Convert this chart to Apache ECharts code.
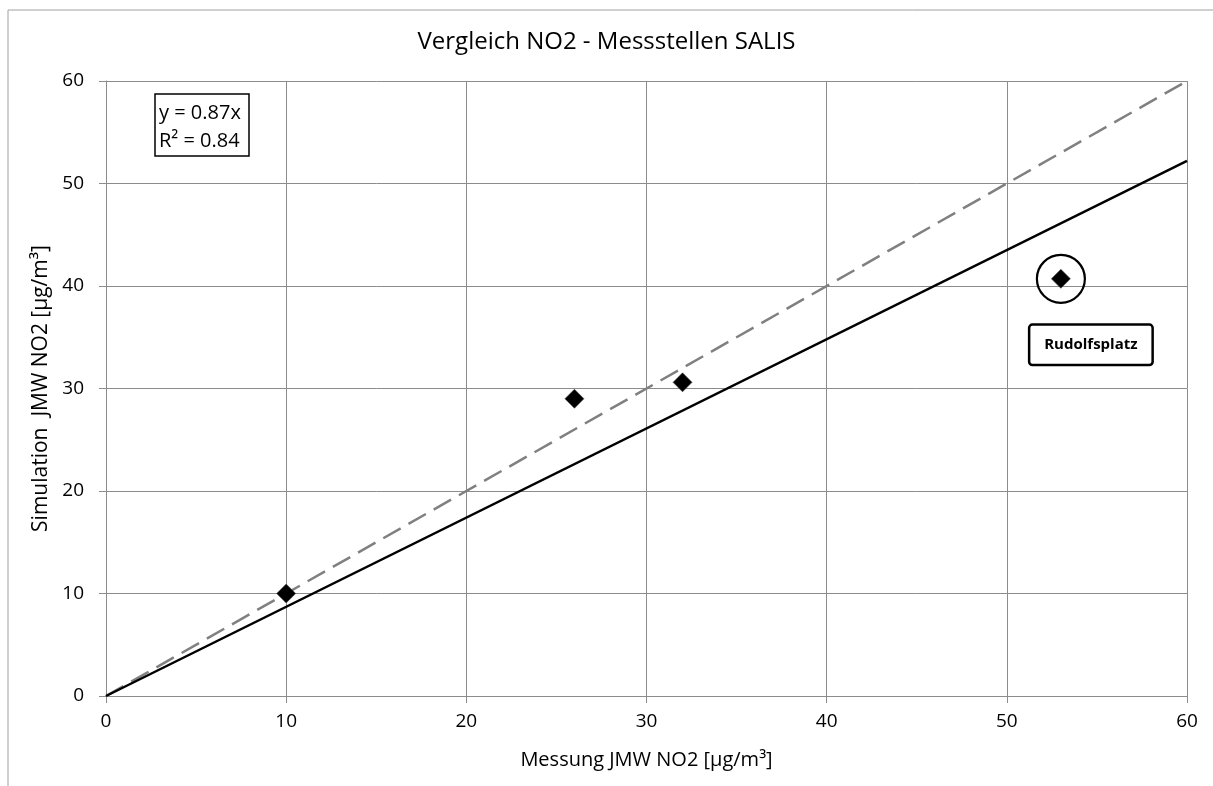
<!DOCTYPE html>
<html>
<head>
<meta charset="utf-8">
<script src="https://cdn.jsdelivr.net/npm/echarts@6/dist/echarts.min.js"></script>
<style>
  html, body { margin: 0; padding: 0; background: #ffffff; }
  #chart { width: 1213px; height: 786px; }
</style>
</head>
<body>
<div id="chart"></div>
<script>
// Measured vs. simulated annual mean NO2 at the SALIS stations
const measured  = [10, 26, 32, 53];
const simulated = [10.0, 29.0, 30.6, 40.7];
const stationNames = ['', '', '', 'Rudolfsplatz'];
const highlightedStation = 'Rudolfsplatz';

// Linear fit through the origin and the 1:1 reference line
const fitSlope = 0.87;
const fitR2 = 0.84;
const axisMax = 60;
const axisTicks = [0, 10, 20, 30, 40, 50, 60];

const FONT = '"Open Sans", Lato, sans-serif';

const points = measured.map((x, i) => [x, simulated[i]]);
const idx = stationNames.indexOf(highlightedStation);
const highlight = [[measured[idx], simulated[idx]]];

const chart = echarts.init(document.getElementById('chart'), null, { renderer: 'canvas' });

chart.setOption({
  backgroundColor: '#ffffff',
  animation: false,
  title: {
    text: 'Vergleich NO2 - Messstellen SALIS',
    left: 'center',
    top: 25,
    textStyle: { fontFamily: FONT, fontSize: 24, fontWeight: 'normal', color: '#000' }
  },
  grid: { left: 106, right: 26, top: 81, bottom: 90, containLabel: false },
  xAxis: {
    type: 'value',
    min: 0, max: axisMax, interval: 10,
    name: 'Messung JMW NO2 [µg/m³]',
    nameLocation: 'middle',
    nameGap: 54,
    nameTextStyle: { fontFamily: FONT, fontSize: 20, color: '#000' },
    axisLine: { show: true, lineStyle: { color: '#8c8c8c', width: 1 } },
    axisTick: { show: true, inside: false, length: 7, lineStyle: { color: '#8c8c8c' } },
    axisLabel: { fontFamily: FONT, fontSize: 19, color: '#000', margin: 16 },
    splitLine: { show: true, lineStyle: { color: '#8c8c8c', width: 1 } }
  },
  yAxis: {
    type: 'value',
    min: 0, max: axisMax, interval: 10,
    name: 'Simulation  JMW NO2 [µg/m³]',
    nameLocation: 'middle',
    nameGap: 53,
    nameTextStyle: { fontFamily: FONT, fontSize: 21, color: '#000' },
    axisLine: { show: true, lineStyle: { color: '#8c8c8c', width: 1 } },
    axisTick: { show: true, inside: false, length: 7, lineStyle: { color: '#8c8c8c' } },
    axisLabel: { fontFamily: FONT, fontSize: 19, color: '#000', margin: 22 },
    splitLine: { show: true, lineStyle: { color: '#8c8c8c', width: 1 } }
  },
  series: [
    {
      name: '1:1',
      type: 'line',
      data: [[0, 0], [axisMax, axisMax]],
      symbol: 'none',
      silent: true,
      lineStyle: { color: '#808080', width: 2.5, type: [20, 9] },
      z: 2
    },
    {
      name: 'Fit',
      type: 'line',
      data: [[0, 0], [axisMax, fitSlope * axisMax]],
      symbol: 'none',
      silent: true,
      lineStyle: { color: '#000000', width: 2.5 },
      z: 3
    },
    {
      name: 'Messstellen',
      type: 'scatter',
      data: points,
      symbol: 'diamond',
      symbolSize: [19, 19],
      itemStyle: { color: '#000000', borderColor: '#444', borderWidth: 0.6, opacity: 1 },
      z: 5
    },
    {
      name: highlightedStation,
      type: 'scatter',
      data: highlight,
      symbol: 'circle',
      symbolSize: 48,
      silent: true,
      itemStyle: { color: 'rgba(0,0,0,0)', borderColor: '#000000', borderWidth: 2.2, opacity: 1 },
      label: {
        show: true,
        formatter: highlightedStation,
        position: 'inside',
        offset: [30, 66],
        fontFamily: FONT,
        fontSize: 15,
        fontWeight: 'bold',
        color: '#000',
        textBorderWidth: 0,
        textShadowBlur: 0,
        width: 121,
        height: 38,
        lineHeight: 38,
        align: 'center',
        verticalAlign: 'middle',
        borderColor: '#000',
        borderWidth: 2.5,
        borderRadius: 2,
        backgroundColor: '#fff',
        shadowBlur: 0,
        padding: 0
      },
      z: 6
    }
  ],
  graphic: [
    {
      type: 'rect',
      shape: { x: 8, y: 10, width: 1400, height: 1000 },
      style: { fill: 'none', stroke: '#a0a0a0', lineWidth: 1 },
      silent: true,
      z: -1
    },
    {
      type: 'rect',
      shape: { x: 155, y: 94, width: 94, height: 62 },
      style: { fill: '#ffffff', stroke: '#000000', lineWidth: 1.5 },
      z: 10
    },
    {
      type: 'text',
      left: 159,
      top: 99,
      style: {
        text: 'y = ' + fitSlope.toFixed(2) + 'x\nR² = ' + fitR2.toFixed(2),
        fontFamily: FONT,
        fontSize: 20,
        lineHeight: 28,
        fill: '#000'
      },
      z: 11
    }
  ]
});
</script>
</body>
</html>
